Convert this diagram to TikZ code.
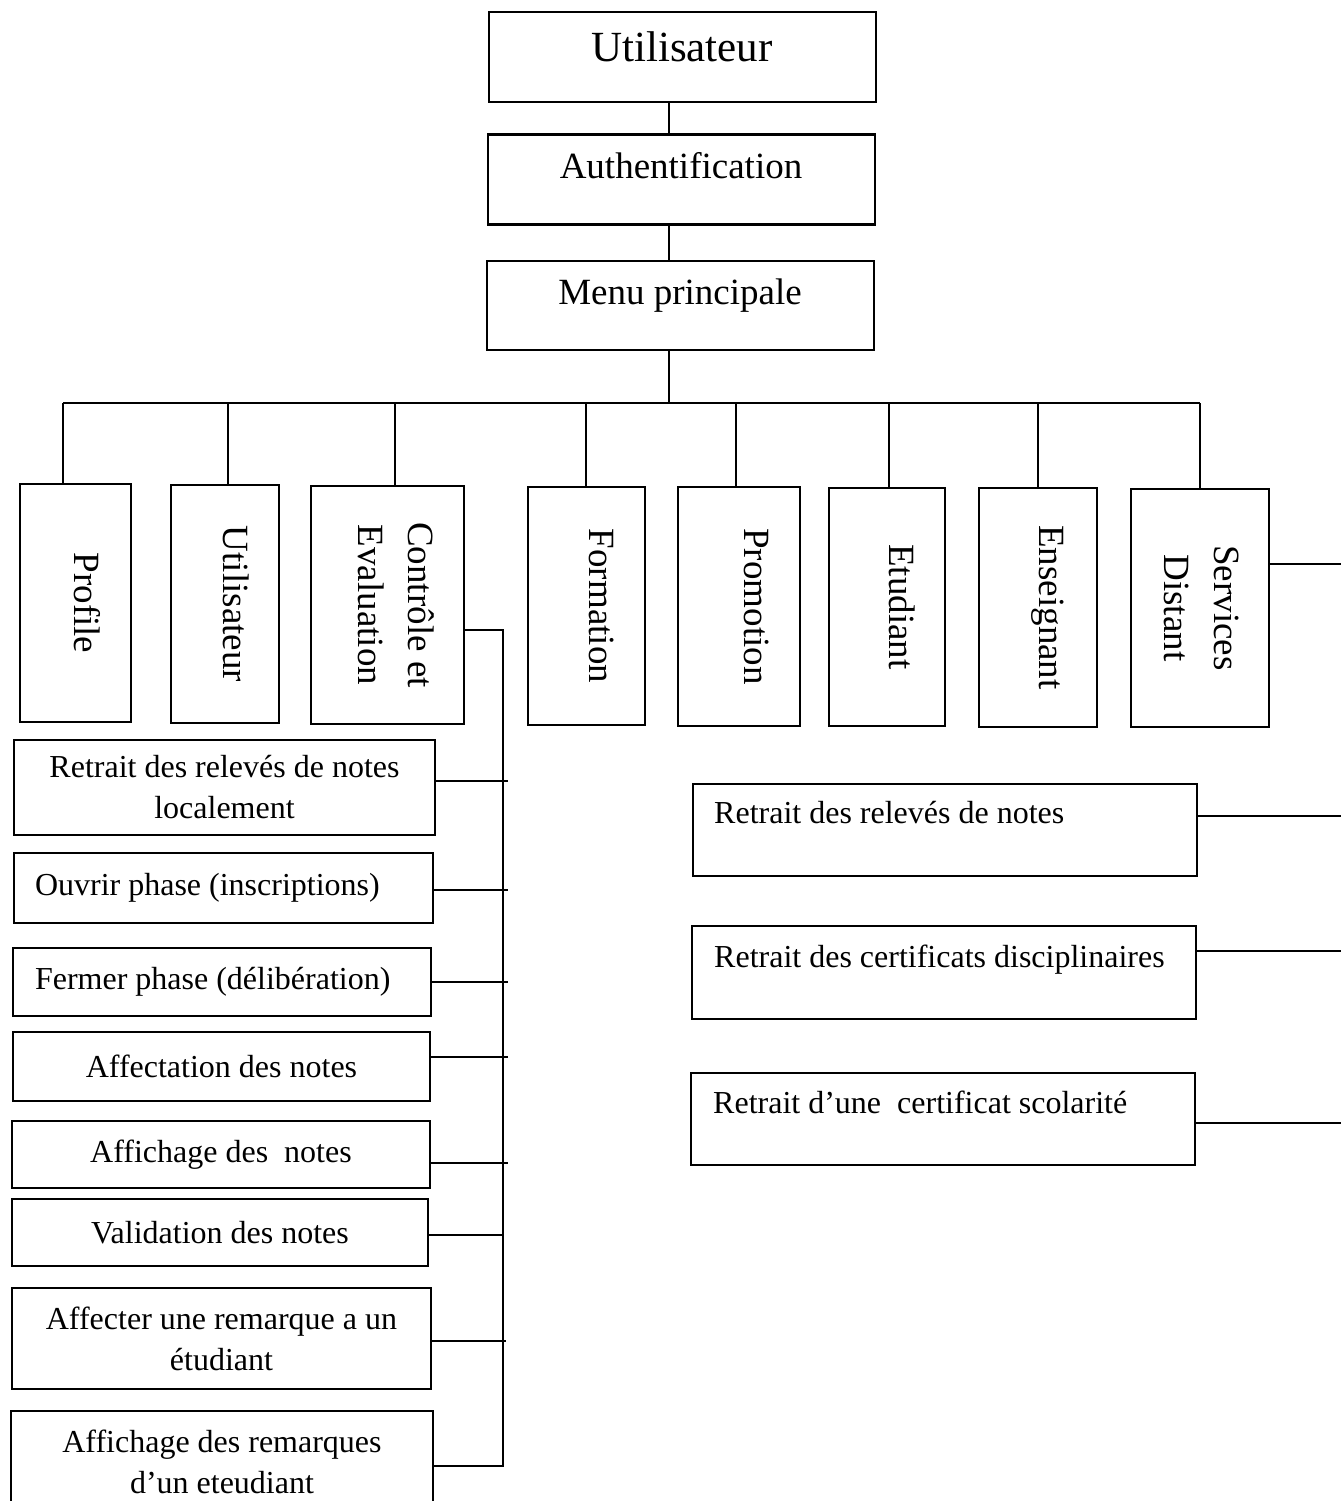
\documentclass[tikz,border=0pt]{standalone}
\usepackage{fontspec}
\setmainfont{Liberation Serif}
\begin{document}
\begin{tikzpicture}[x=1pt,y=-1pt,
  box/.style={draw, line width=2.2pt, inner sep=0pt},
  link/.style={line width=2pt},
  bigtxt/.style={font=\fontsize{43}{50}\selectfont, anchor=base, inner sep=0pt},
  midtxt/.style={font=\fontsize{37}{44}\selectfont, anchor=base, inner sep=0pt},
  vtxt/.style={font=\fontsize{37}{50}\selectfont, rotate=-90, align=center, inner sep=0pt},
  lbox/.style={box, align=center, font=\fontsize{32}{41}\selectfont},
  rtxt/.style={font=\fontsize{32}{41}\selectfont, anchor=base west, inner sep=0pt}]
\useasboundingbox (0,0) rectangle (1341,1501);
\clip (0,0) rectangle (1341,1501);

% main column
\node[box, minimum width=387pt, minimum height=90pt] (top) at (682.5,57) {};
\node[bigtxt] (topT) at (682,62) {Utilisateur};
\node[box, minimum width=387pt, minimum height=90pt] (auth) at (681.5,179.5) {};
\node[midtxt] (authT) at (681,178) {Authentification};
\node[box, minimum width=387pt, minimum height=89pt] (menu) at (680.5,305.5) {};
\node[midtxt] (menuT) at (680,304) {Menu principale};

\coordinate (trunk) at (669,403);
\draw[link] (top.south -| trunk) -- (auth.north -| trunk);
\draw[link] (auth.south -| trunk) -- (menu.north -| trunk);
\draw[link] (menu.south -| trunk) -- (trunk);

% menu entries
\node[box, minimum width=111pt, minimum height=238pt] (vProfile) at (75.5,603) {};
\node[vtxt] (vProfileT) at (87,603) {Profile};
\node[box, minimum width=108pt, minimum height=238pt] (vUtil) at (225,604) {};
\node[vtxt] (vUtilT) at (236,604) {Utilisateur};
\node[box, minimum width=153pt, minimum height=238pt] (vCtrl) at (387.5,605) {};
\node[vtxt] (vCtrlT) at (396,605) {Contrôle et\\Evaluation};
\node[box, minimum width=117pt, minimum height=238pt] (vForm) at (586.5,606) {};
\node[vtxt] (vFormT) at (602,606) {Formation};
\node[box, minimum width=122pt, minimum height=239pt] (vProm) at (739,606.5) {};
\node[vtxt] (vPromT) at (757,606.5) {Promotion};
\node[box, minimum width=116pt, minimum height=238pt] (vEtud) at (887,607) {};
\node[vtxt] (vEtudT) at (902,607) {Etudiant};
\node[box, minimum width=118pt, minimum height=239pt] (vEns) at (1038,607.5) {};
\node[vtxt] (vEnsT) at (1048,607.5) {Enseignant};
\node[box, minimum width=138pt, minimum height=238pt] (vServ) at (1200,608) {};
\node[vtxt] (vServT) at (1202,608) {Services\\Distant};

% bus and drops
\coordinate (dProfile) at (63,403);
\coordinate (dUtil) at (228,403);
\coordinate (dCtrl) at (395,403);
\coordinate (dForm) at (586,403);
\coordinate (dProm) at (736,403);
\coordinate (dEtud) at (889,403);
\coordinate (dEns) at (1038,403);
\coordinate (dServ) at (1200,403);
\draw[link] (dProfile) -- (dServ);
\foreach \n in {Profile,Util,Ctrl,Form,Prom,Etud,Ens,Serv}
  \draw[link] (d\n) -- (v\n.north -| d\n);

% Contrôle et Evaluation sub-entries
\node[lbox, minimum width=421pt, minimum height=95pt] (l1) at (224.5,787.5) {Retrait des relevés de notes\\localement};
\node[lbox, minimum width=419pt, minimum height=70pt, text width=377pt, align=flush left] (l2) at (223.5,888) {Ouvrir phase (inscriptions)};
\node[lbox, minimum width=418pt, minimum height=68pt, text width=374pt, align=flush left] (l3) at (222,982) {Fermer phase (délibération)};
\node[lbox, minimum width=417pt, minimum height=69pt] (l4) at (221.5,1066.5) {Affectation des notes};
\node[lbox, minimum width=418pt, minimum height=67pt] (l5) at (221,1154.5) {Affichage des~ notes};
\node[lbox, minimum width=416pt, minimum height=67pt] (l6) at (220,1232.5) {Validation des notes};
\node[lbox, minimum width=419pt, minimum height=101pt] (l7) at (221.5,1338.5) {Affecter une remarque a un\\étudiant};
\node[lbox, minimum width=422pt, minimum height=101pt] (l8) at (222,1461.5) {Affichage des remarques\\d’un eteudiant};

\coordinate (spine) at (503,630);
\coordinate (spineEnd) at (503,1466);
\draw[link] (vCtrl.east |- spine) -- (spine) -- (spineEnd) -- (l8.east |- spineEnd);
\coordinate (t1) at (508,781);
\coordinate (t2) at (508,890);
\coordinate (t3) at (508,982);
\coordinate (t4) at (508,1057);
\coordinate (t5) at (508,1163);
\coordinate (t6) at (503,1235);
\coordinate (t7) at (506,1341);
\foreach \i in {1,...,7}
  \draw[link] (l\i.east |- t\i) -- (t\i);

% Services Distant sub-entries
\node[box, minimum width=504pt, minimum height=92pt] (r1) at (945,830) {};
\node[rtxt] (r1T) at (714,823) {Retrait des relevés de notes};
\node[box, minimum width=504pt, minimum height=93pt] (r2) at (944,972.5) {};
\node[rtxt] (r2T) at (714,967) {Retrait des certificats disciplinaires};
\node[box, minimum width=504pt, minimum height=92pt] (r3) at (943,1119) {};
\node[rtxt] (r3T) at (713,1113) {Retrait d’une~ certificat scolarité};

\coordinate (sOut) at (1341,564);
\coordinate (o1) at (1341,816);
\coordinate (o2) at (1341,951);
\coordinate (o3) at (1341,1123);
\draw[link] (vServ.east |- sOut) -- (sOut);
\draw[link] (r1.east |- o1) -- (o1);
\draw[link] (r2.east |- o2) -- (o2);
\draw[link] (r3.east |- o3) -- (o3);
\end{tikzpicture}
\end{document}
